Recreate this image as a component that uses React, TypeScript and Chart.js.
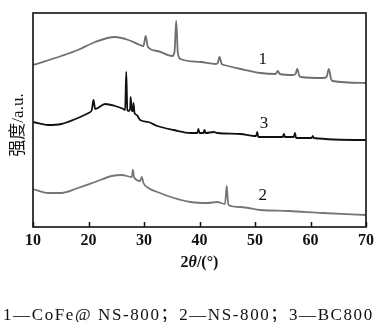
import React, { useEffect, useRef } from "react";
import { Chart, registerables } from "chart.js";

Chart.register(...registerables);

// 2θ positions (°) and intensities (a.u.)
const s1X = [10, 15.1, 18.1, 21.2, 24.8, 27.2, 29.3, 29.9, 30.3, 30.7, 32.4, 35.1, 35.5, 35.8, 36.1, 36.6, 40.2, 42.9, 43.3, 43.6, 44.0, 44.4, 47.4, 51.0, 53.7, 54.1, 54.5, 56.8, 57.3, 57.6, 58.0, 58.3, 62.2, 62.9, 63.3, 63.7, 64.0, 70];
const s1Y = [162, 171, 177, 185, 190, 187, 182, 181, 191, 180, 176, 171, 175, 206, 174, 168, 165, 163, 164, 170, 163, 162, 158, 154, 153, 156, 153, 152, 153, 158, 151, 150, 149, 150, 158, 148, 146, 144];

const s3X = [10, 12.7, 15.1, 18.1, 20, 20.6, 20.9, 21.2, 23, 24.8, 26.3, 26.6, 26.8, 27.0, 27.2, 27.5, 27.6, 27.8, 28.0, 28.1, 28.3, 28.7, 29.3, 30.8, 32.4, 35.4, 38.4, 39.6, 39.8, 40.0, 40.7, 40.9, 41.1, 42.6, 43.2, 47.4, 49.8, 50.2, 50.4, 50.6, 55.0, 55.2, 55.4, 57.0, 57.2, 57.4, 60.2, 60.4, 60.6, 70];
const s3Y = [105, 102, 103, 109, 114, 117, 127, 118, 123, 121, 118, 117, 155, 117, 116, 118, 130, 116, 116, 124, 114, 112, 107, 105, 101, 97, 94, 94, 98, 94, 94, 97, 94, 95, 94, 93, 91, 91, 95, 90, 90, 93, 90, 90, 94, 89, 89, 91, 89, 87];

const s2X = [10, 12.7, 15.1, 18.1, 21.2, 24.2, 26.0, 27.8, 28.0, 28.2, 29.3, 29.6, 29.9, 30.8, 32.4, 35.4, 38.4, 41.4, 43.2, 44.6, 44.9, 45.2, 47.4, 51.0, 56.1, 62.2, 70];
const s2Y = [38, 34, 34, 39, 45, 51, 52, 50, 57, 50, 46, 50, 44, 39, 35, 29, 25, 24, 25, 23, 41, 22, 20, 17, 16, 14, 12];

const xTicks = [10, 20, 30, 40, 50, 60, 70];
const curveLabels = ["1", "3", "2"];
const curveLabelX = [51.4, 51.6, 51.4];
const curveLabelY = [167, 103, 31];

const xTitleParts = ["2", "θ", "/(°)"];
const yTitle = "强度/a.u.";
const caption = "1—CoFe@ NS-800；2—NS-800；3—BC800";

const pts = (xs: number[], ys: number[]) => xs.map((x, i) => ({ x, y: ys[i] }));

const SERIF = "'Liberation Serif', 'DejaVu Serif', 'Noto Sans CJK SC', serif";

const decor = {
  id: "decor",
  afterDraw(chart: any) {
    const { ctx, chartArea: a, scales } = chart;
    const xs = scales.x;
    const ys = scales.y;
    ctx.save();
    // frame
    ctx.strokeStyle = "#2a2a2a";
    ctx.lineWidth = 1.8;
    ctx.strokeRect(a.left, a.top, a.right - a.left, a.bottom - a.top);
    // inward ticks
    ctx.lineWidth = 1.5;
    ctx.strokeStyle = "#111";
    xTicks.forEach((t) => {
      const px = Math.round(xs.getPixelForValue(t)) + 0.5;
      ctx.beginPath();
      ctx.moveTo(px, a.bottom);
      ctx.lineTo(px, a.bottom - 5);
      ctx.stroke();
    });
    // curve labels
    ctx.fillStyle = "#111";
    ctx.font = `17px ${SERIF}`;
    ctx.textAlign = "center";
    ctx.textBaseline = "middle";
    curveLabels.forEach((l, i) => {
      ctx.fillText(l, xs.getPixelForValue(curveLabelX[i]), ys.getPixelForValue(curveLabelY[i]));
    });
    // x title
    const fonts = [`bold 16px ${SERIF}`, `bold italic 16px ${SERIF}`, `bold 16px ${SERIF}`];
    let total = 0;
    const widths = xTitleParts.map((p, i) => {
      ctx.font = fonts[i];
      const w = ctx.measureText(p).width;
      total += w;
      return w;
    });
    let cx = (a.left + a.right) / 2 - total / 2;
    ctx.textAlign = "left";
    xTitleParts.forEach((p, i) => {
      ctx.font = fonts[i];
      ctx.fillText(p, cx, 263);
      cx += widths[i];
    });
    // y title
    ctx.save();
    ctx.translate(19, 125);
    ctx.rotate(-Math.PI / 2);
    ctx.font = `17px ${SERIF}`;
    ctx.textAlign = "center";
    ctx.fillText(yTitle, 0, 0);
    ctx.restore();
    // caption
    ctx.font = `17px ${SERIF}`;
    (ctx as any).letterSpacing = "1.6px";
    ctx.textAlign = "left";
    ctx.textBaseline = "alphabetic";
    ctx.fillText(caption, 3, 320);
    ctx.restore();
  },
};

export default function App() {
  const ref = useRef<HTMLCanvasElement | null>(null);
  useEffect(() => {
    if (!ref.current) return;
    const chart = new Chart(ref.current, {
      type: "line",
      data: {
        datasets: [
          { label: "1", data: pts(s1X, s1Y), borderColor: "#6f6f6f", borderWidth: 1.8 },
          { label: "3", data: pts(s3X, s3Y), borderColor: "#111111", borderWidth: 1.8 },
          { label: "2", data: pts(s2X, s2Y), borderColor: "#767676", borderWidth: 1.8 },
        ],
      },
      options: {
        responsive: false,
        animation: false,
        events: [],
        layout: { padding: { left: 33, right: 14, top: 13, bottom: 0 } },
        elements: { point: { radius: 0 }, line: { cubicInterpolationMode: "monotone" } },
        plugins: { legend: { display: false }, tooltip: { enabled: false } },
        scales: {
          x: {
            type: "linear",
            min: 10,
            max: 70,
            afterFit: (s: any) => {
              s.height = 95;
            },
            afterBuildTicks: (s: any) => {
              s.ticks = xTicks.map((v) => ({ value: v }));
            },
            ticks: {
              font: { family: SERIF, size: 16, weight: "bold" },
              color: "#111",
              padding: 4,
              maxRotation: 0,
              autoSkip: false,
            },
            grid: { display: false, drawTicks: false },
            border: { display: false },
          },
          y: { type: "linear", min: 0, max: 214, display: false },
        },
      },
      plugins: [decor],
    });
    return () => chart.destroy();
  }, []);
  return (
    <div style={{ position: "absolute", left: 0, top: 0, width: 380, height: 322, background: "#fff" }}>
      <canvas ref={ref} width={380} height={322} />
    </div>
  );
}
